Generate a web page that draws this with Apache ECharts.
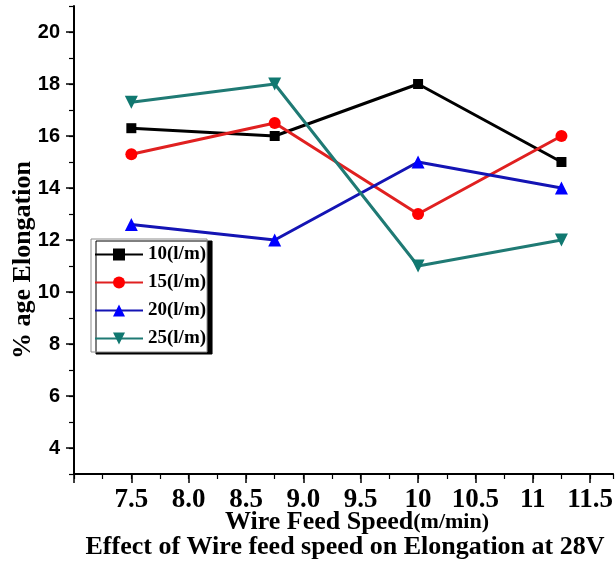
<!DOCTYPE html>
<html>
<head>
<meta charset="utf-8">
<script src="https://cdn.jsdelivr.net/npm/echarts@6/dist/echarts.min.js"></script>
<style>
  html, body { margin: 0; padding: 0; background: #ffffff; }
  #chart { width: 616px; height: 565px; }
</style>
</head>
<body>
<div id="chart"></div>
<script>
// Wire feed speed (m/min) at which each run was made
const wireFeedSpeed = [7.5, 8.75, 10, 11.25];

// % elongation for each shielding gas flow rate
const flow10 = [16.3, 16.0, 18.0, 15.0];
const flow15 = [15.3, 16.5, 13.0, 16.0];
const flow20 = [12.6, 12.0, 15.0, 14.0];
const flow25 = [17.3, 18.0, 11.0, 12.0];

const seriesNames = ['10(l/m)', '15(l/m)', '20(l/m)', '25(l/m)'];

// axis ticks
const xTickValues = [7, 7.5, 8, 8.5, 9, 9.5, 10, 10.5, 11, 11.5];
const xTickLabels = ['', '7.5', '8.0', '8.5', '9.0', '9.5', '10', '10.5', '11', '11.5'];
const yTickValues = [4, 6, 8, 10, 12, 14, 16, 18, 20];

const serif = '"Liberation Serif", "DejaVu Serif", serif';
const sans = '"Liberation Sans", Arial, sans-serif';

function pairs(values) {
  return wireFeedSpeed.map((x, i) => [x, values[i]]);
}

const chart = echarts.init(document.getElementById('chart'), null, { renderer: 'canvas' });

const lineSeries = [
  { data: flow10, color: '#000000', marker: '#000000', symbol: 'rect', size: 10, rotate: 0 },
  { data: flow15, color: '#e02020', marker: '#ff0000', symbol: 'circle', size: 12, rotate: 0 },
  { data: flow20, color: '#1414b4', marker: '#0000ff', symbol: 'triangle', size: 13, rotate: 0 },
  { data: flow25, color: '#1f7a74', marker: '#107870', symbol: 'triangle', size: 13, rotate: 180 }
].map((s, i) => ({
  name: seriesNames[i],
  type: 'line',
  xAxisIndex: 0,
  yAxisIndex: 0,
  data: pairs(s.data),
  symbol: s.symbol,
  symbolSize: s.size,
  symbolRotate: s.rotate,
  showAllSymbol: true,
  lineStyle: { color: s.color, width: 3 },
  itemStyle: { color: s.marker, borderWidth: 0 },
  emphasis: { disabled: true },
  animation: false,
  z: 3
}));

chart.setOption({
  backgroundColor: '#ffffff',
  animation: false,
  grid: { left: 74, right: 0, top: 6, bottom: 91, containLabel: false },
  legend: {
    orient: 'vertical',
    left: 91,
    top: 239,
    data: seriesNames,
    itemWidth: 48,
    itemHeight: 15,
    itemGap: 9,
    padding: [6, 1, 4, 3],
    backgroundColor: '#ffffff',
    borderColor: '#8c8c8c',
    borderWidth: 1,
    borderRadius: 0,
    shadowColor: '#000000',
    shadowBlur: 0,
    shadowOffsetX: 5,
    shadowOffsetY: 2,
    textStyle: { fontFamily: serif, fontWeight: 'bold', fontSize: 19, color: '#000' }
  },
  xAxis: [
    {
      type: 'value',
      min: 7,
      max: 11.7,
      interval: 0.5,
      position: 'bottom',
      splitLine: { show: false },
      axisLine: { show: true, onZero: false, lineStyle: { color: '#000', width: 2 } },
      axisTick: { show: true, inside: false, length: 9, customValues: xTickValues, lineStyle: { color: '#000', width: 1.5 } },
      axisLabel: {
        show: true,
        margin: 13,
        customValues: xTickValues.slice(1),
        formatter: v => {
          const i = xTickValues.findIndex(t => Math.abs(t - v) < 1e-6);
          return i >= 0 ? xTickLabels[i] : '';
        },
        fontFamily: serif, fontWeight: 'bold', fontSize: 27, color: '#000'
      }
    },
    {
      // minor ticks every 0.25
      type: 'value',
      min: 7,
      max: 11.7,
      interval: 0.25,
      position: 'bottom',
      offset: 0,
      splitLine: { show: false },
      axisLine: { show: false, onZero: false },
      axisTick: { show: true, inside: false, length: 5, lineStyle: { color: '#000', width: 1.2 } },
      axisLabel: { show: false }
    }
  ],
  yAxis: [
    {
      type: 'value',
      min: 3,
      max: 21,
      position: 'left',
      splitLine: { show: false },
      axisLine: { show: true, onZero: false, lineStyle: { color: '#000', width: 2 } },
      axisTick: { show: true, inside: false, length: 8, customValues: yTickValues, lineStyle: { color: '#000', width: 1.5 } },
      axisLabel: {
        show: true,
        margin: 14,
        customValues: yTickValues,
        fontFamily: sans, fontWeight: 'bold', fontSize: 20, color: '#000'
      }
    },
    {
      // minor ticks every 1
      type: 'value',
      min: 3,
      max: 21,
      interval: 1,
      position: 'left',
      offset: 0,
      splitLine: { show: false },
      axisLine: { show: false, onZero: false },
      axisTick: { show: true, inside: false, length: 5, lineStyle: { color: '#000', width: 1.2 } },
      axisLabel: { show: false }
    }
  ],
  graphic: [
    {
      type: 'text',
      x: 23,
      y: 260,
      rotation: Math.PI / 2,
      style: {
        text: '% age Elongation',
        font: 'bold 26px ' + serif,
        fill: '#000',
        align: 'center',
        verticalAlign: 'middle'
      }
    },
    {
      type: 'text',
      x: 357,
      y: 522,
      style: {
        text: '{a|Wire Feed Speed}{b|(m/min)}',
        align: 'center',
        verticalAlign: 'middle',
        rich: {
          a: { fontFamily: serif, fontWeight: 'bold', fontSize: 26, fill: '#000', color: '#000' },
          b: { fontFamily: serif, fontWeight: 'bold', fontSize: 22, fill: '#000', color: '#000' }
        }
      }
    },
    {
      type: 'text',
      x: 345,
      y: 547,
      style: {
        text: 'Effect of Wire feed speed on Elongation at 28V',
        font: 'bold 26px ' + serif,
        fill: '#000',
        align: 'center',
        verticalAlign: 'middle'
      }
    }
  ],
  series: lineSeries
});
</script>
</body>
</html>
